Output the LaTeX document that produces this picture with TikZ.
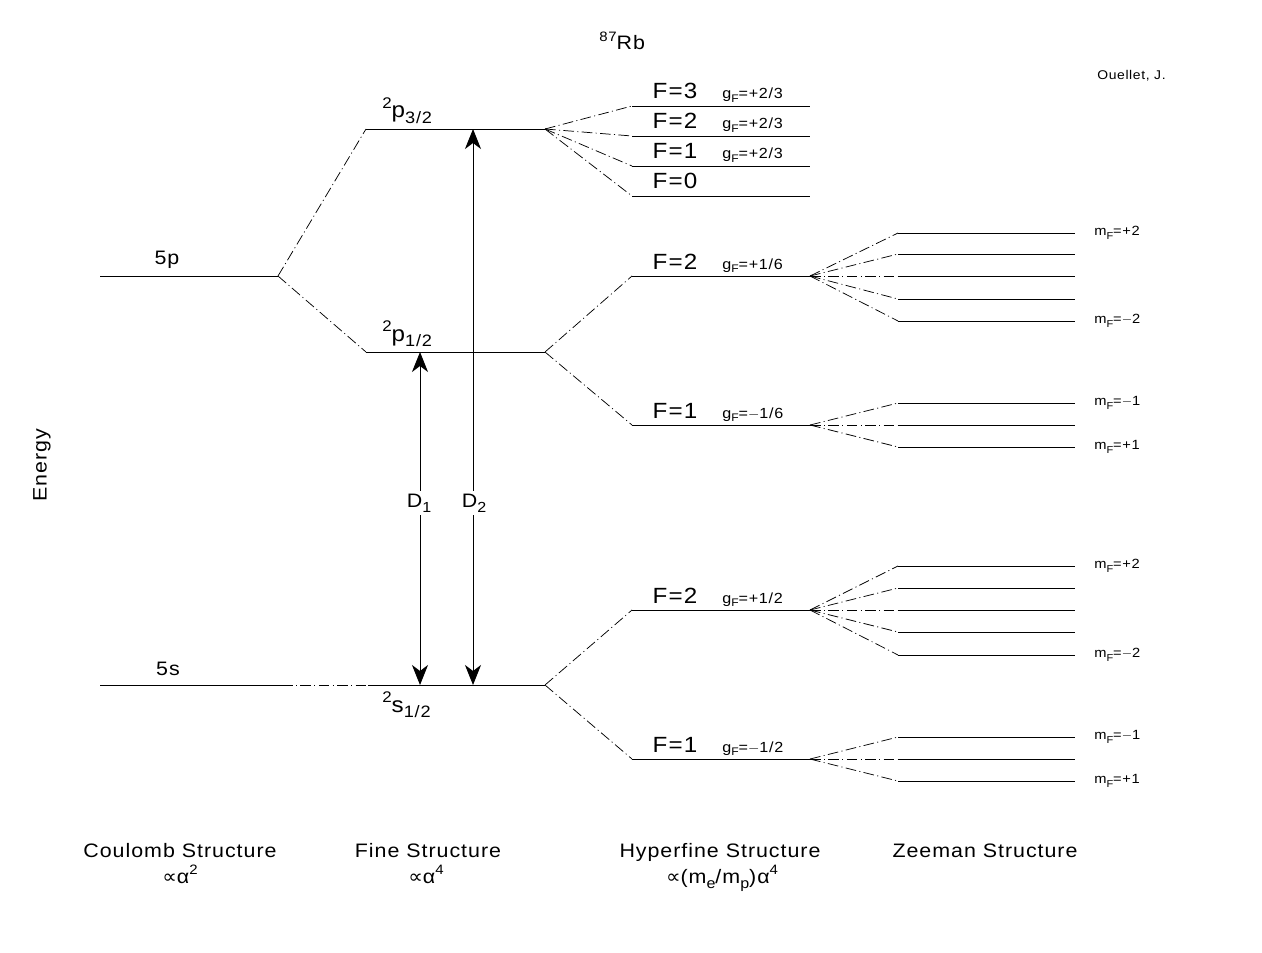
\documentclass[tikz,border=0pt]{standalone}
\usepackage{graphicx}
\usepackage{fontspec}
\setmainfont{Liberation Sans}[FakeStretch=1.1,LetterSpace=5]
\newfontfamily\dvs{DejaVu Sans}[FakeStretch=1.05]
\usetikzlibrary{arrows.meta}
\newcommand\lsup[1]{\raisebox{0.85ex}{\scalebox{0.7}{#1}}}
\newcommand\lsub[1]{\raisebox{-0.5ex}{\scalebox{0.75}{#1}}}
\begin{document}
\begin{tikzpicture}[x=0.75pt,y=-0.75pt,
  lvl/.style={line width=0.7pt},
  dd/.style={line width=0.55pt, dash pattern=on 8pt off 2.5pt on 0.8pt off 2.5pt},
  big/.style={font=\fontsize{14.6}{17}\selectfont, inner sep=0pt},
  flab/.style={font=\fontsize{16.5}{19}\selectfont, inner sep=0pt},
  small/.style={font=\fontsize{11}{13}\selectfont, inner sep=0pt},
  msmall/.style={font=\fontsize{10}{12}\selectfont, inner sep=0pt},
  tiny/.style={font=\fontsize{9.5}{11}\selectfont, inner sep=0pt},
  trans/.style={line width=0.7pt, {Stealth[length=15pt,width=12pt,inset=4.5pt]}-{Stealth[length=15pt,width=12pt,inset=4.5pt]}},
  lab/.style={big, fill=white, inner sep=2pt}]
\useasboundingbox (0,0) rectangle (1262,952);

% title and author
\node[big, anchor=base west] (title) at (599,50) {\lsup{87}Rb};
\node[tiny, anchor=base west] (author) at (1097,80) {Ouellet, J.};
\node[big, rotate=90] (energy) at (42,465) {Energy};

% Coulomb structure
\coordinate (c5pL) at (100,276); \coordinate (c5pR) at (278,276);
\coordinate (c5sL) at (100,685); \coordinate (c5sR) at (282,685);
\draw[lvl] (c5pL) -- (c5pR);
\draw[lvl] (c5sL) -- (c5sR);
\node[big, anchor=base] (l5p) at (167,264) {5p};
\node[big, anchor=base] (l5s) at (168,675) {5s};

% Fine structure
\coordinate (p32L) at (366,129); \coordinate (p32R) at (545,129);
\coordinate (p12L) at (366,352); \coordinate (p12R) at (545,352);
\coordinate (s12L) at (368,685); \coordinate (s12R) at (545,685);
\draw[lvl] (p32L) -- (p32R);
\draw[lvl] (p12L) -- (p12R);
\draw[lvl] (s12L) -- (s12R);
\draw[dd] (c5pR) -- (p32L);
\draw[dd] (c5pR) -- (p12L);
\draw[dd] (c5sR) -- (s12L);
\node[flab, anchor=base west] (lp32) at (382,118) {\lsup{2}p\lsub{3/2}};
\node[flab, anchor=base west] (lp12) at (382,341) {\lsup{2}p\lsub{1/2}};
\node[flab, anchor=base west] (ls12) at (382,712) {\lsup{2}s\lsub{1/2}};

% D lines
\coordinate (d1a) at (420,352); \coordinate (d1b) at (420,685);
\coordinate (d2a) at (473,129); \coordinate (d2b) at (473,685);
\draw[trans] (d1a) -- (d1b);
\draw[trans] (d2a) -- (d2b);
\node[lab] (D1) at (419,503) {D\lsub{1}};
\node[lab] (D2) at (474,503) {D\lsub{2}};

% Hyperfine structure of 2p3/2
\foreach \y/\f in {106/3,136/2,166/1,196/0} {
  \coordinate (hp3L\f) at (632,\y); \coordinate (hp3R\f) at (810,\y);
  \draw[dd] (p32R) -- (hp3L\f);
  \draw[lvl] (hp3L\f) -- (hp3R\f);
  \node[flab, anchor=base] (hp3F\f) at (675,\y-7) {F=\f};
}
\foreach \y in {106,136,166} {
  \node[small, anchor=base west] (hp3g\y) at (722,\y-7) {g\lsub{F}=+2/3};
}

% Hyperfine structure of 2p1/2
\coordinate (hp1L2) at (632,276); \coordinate (hp1R2) at (810,276);
\coordinate (hp1L1) at (632,425); \coordinate (hp1R1) at (810,425);
\draw[dd] (p12R) -- (hp1L2);
\draw[dd] (p12R) -- (hp1L1);
\draw[lvl] (hp1L2) -- (hp1R2);
\draw[lvl] (hp1L1) -- (hp1R1);
\node[flab, anchor=base] (hp1F2) at (675,269) {F=2};
\node[small, anchor=base west] (hp1g2) at (722,269) {g\lsub{F}=+1/6};
\node[flab, anchor=base] (hp1F1) at (675,418) {F=1};
\node[small, anchor=base west] (hp1g1) at (722,418) {g\lsub{F}=$-$1/6};

% Hyperfine structure of 2s1/2
\coordinate (hsL2) at (632,610); \coordinate (hsR2) at (810,610);
\coordinate (hsL1) at (632,759); \coordinate (hsR1) at (810,759);
\draw[dd] (s12R) -- (hsL2);
\draw[dd] (s12R) -- (hsL1);
\draw[lvl] (hsL2) -- (hsR2);
\draw[lvl] (hsL1) -- (hsR1);
\node[flab, anchor=base] (hsF2) at (675,603) {F=2};
\node[small, anchor=base west] (hsg2) at (722,603) {g\lsub{F}=+1/2};
\node[flab, anchor=base] (hsF1) at (675,752) {F=1};
\node[small, anchor=base west] (hsg1) at (722,752) {g\lsub{F}=$-$1/2};

% Zeeman structure
\foreach \y [count=\i] in {233,254,276,299,321} {
  \coordinate (za\i) at (898,\y); \coordinate (zae\i) at (1075,\y);
  \draw[dd] (hp1R2) -- (za\i);
  \draw[lvl] (za\i) -- (zae\i);
}
\foreach \y [count=\i] in {403,425,447} {
  \coordinate (zb\i) at (898,\y); \coordinate (zbe\i) at (1075,\y);
  \draw[dd] (hp1R1) -- (zb\i);
  \draw[lvl] (zb\i) -- (zbe\i);
}
\foreach \y [count=\i] in {566,588,610,632,655} {
  \coordinate (zc\i) at (898,\y); \coordinate (zce\i) at (1075,\y);
  \draw[dd] (hsR2) -- (zc\i);
  \draw[lvl] (zc\i) -- (zce\i);
}
\foreach \y [count=\i] in {737,759,781} {
  \coordinate (zd\i) at (898,\y); \coordinate (zde\i) at (1075,\y);
  \draw[dd] (hsR1) -- (zd\i);
  \draw[lvl] (zd\i) -- (zde\i);
}
\node[msmall, anchor=west] (ma1) at (1094,233) {m\lsub{F}=+2};
\node[msmall, anchor=west] (ma5) at (1094,321) {m\lsub{F}=$-$2};
\node[msmall, anchor=west] (mb1) at (1094,403) {m\lsub{F}=$-$1};
\node[msmall, anchor=west] (mb3) at (1094,447) {m\lsub{F}=+1};
\node[msmall, anchor=west] (mc1) at (1094,566) {m\lsub{F}=+2};
\node[msmall, anchor=west] (mc5) at (1094,655) {m\lsub{F}=$-$2};
\node[msmall, anchor=west] (md1) at (1094,737) {m\lsub{F}=$-$1};
\node[msmall, anchor=west] (md3) at (1094,781) {m\lsub{F}=+1};

% bottom captions
\node[big, anchor=base] (cap1) at (180,857) {Coulomb Structure};
\node[big, anchor=base] (cap1b) at (180,883) {{\dvs ∝}α\lsup{2}};
\node[big, anchor=base] (cap2) at (428,857) {Fine Structure};
\node[big, anchor=base] (cap2b) at (426,883) {{\dvs ∝}α\lsup{4}};
\node[big, anchor=base] (cap3) at (720,857) {Hyperfine Structure};
\node[big, anchor=base] (cap3b) at (722,883) {{\dvs ∝}(m\lsub{e}/m\lsub{p})α\lsup{4}};
\node[big, anchor=base] (cap4) at (985,857) {Zeeman Structure};
\end{tikzpicture}
\end{document}
